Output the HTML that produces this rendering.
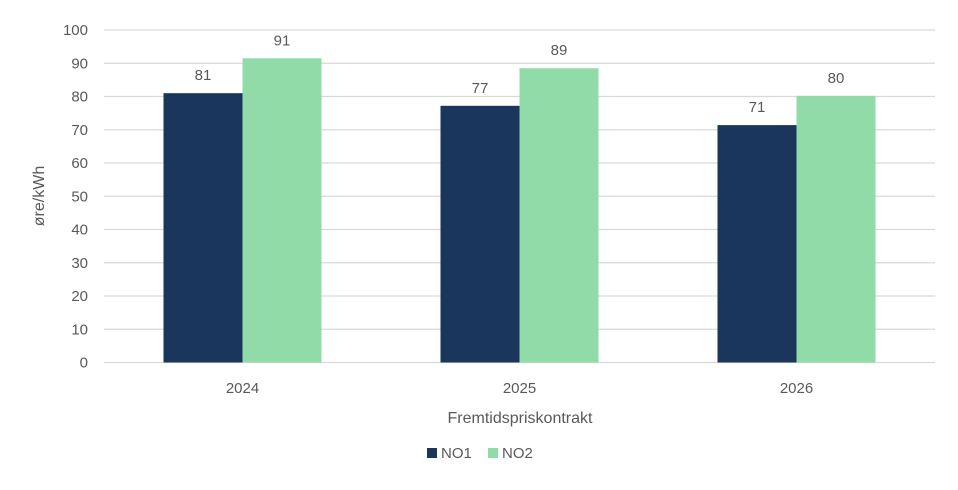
<!DOCTYPE html>
<html><head><meta charset="utf-8"><style>
body{margin:0;background:#fff;}
svg text{font-family:"Liberation Sans",sans-serif;fill:#595959;}
</style></head><body>
<svg width="958" height="485">
<g id="grid"></g>
<g id="yt"></g>
<g id="bars"></g>
<g id="xt"></g>
<text transform="translate(44,196) rotate(-90)" text-anchor="middle" font-size="16">øre/kWh</text>
<text x="520" y="423" text-anchor="middle" font-size="16">Fremtidspriskontrakt</text>
<g>
<rect x="427" y="448" width="10" height="10" fill="#1b365d"/>
<text x="441" y="458" font-size="15">NO1</text>
<rect x="488" y="448" width="10" height="10" fill="#91dba9"/>
<text x="502" y="458" font-size="15">NO2</text>
</g>
</svg>
<script>
const categories=["2024","2025","2026"];
const no1=[81.0,77.2,71.4];
const no2=[91.5,88.5,80.2];
const no1Labels=["81","77","71"];
const no2Labels=["91","89","80"];
const yTicks=[0,10,20,30,40,50,60,70,80,90,100];
const NS="http://www.w3.org/2000/svg";
const x0=104,x1=935,y0=362.5,yTop=30;
const y=v=>y0-(y0-yTop)*v/100;
const cw=(x1-x0)/categories.length;
const bw=79;
function mk(t,a,p){const e=document.createElementNS(NS,t);for(const k in a)e.setAttribute(k,a[k]);p.appendChild(e);return e;}
const grid=document.getElementById('grid'),yt=document.getElementById('yt'),bars=document.getElementById('bars'),xt=document.getElementById('xt');
yTicks.forEach(v=>{
 const l=mk('line',{x1:x0,x2:x1,y1:y(v),y2:y(v),stroke:'#d9d9d9','stroke-width':1.3},grid);
 
 
 const t=mk('text',{x:88,y:y(v)+5,'text-anchor':'end','font-size':15},yt);t.textContent=v;
 
 
});
categories.forEach((c,i)=>{
 const cx=x0+cw*(i+0.5);
 const r1=mk('rect',{x:cx-bw,y:y(no1[i]),width:bw,height:y0-y(no1[i]),fill:'#1b365d'},bars);
 
 
 const r2=mk('rect',{x:cx,y:y(no2[i]),width:bw,height:y0-y(no2[i]),fill:'#91dba9'},bars);
 
 
 const l1=mk('text',{x:cx-bw/2,y:y(no1[i])-13,'text-anchor':'middle','font-size':15},bars);l1.textContent=no1Labels[i];
 
 
 const l2=mk('text',{x:cx+bw/2,y:y(no2[i])-13,'text-anchor':'middle','font-size':15},bars);l2.textContent=no2Labels[i];
 
 
 const t=mk('text',{x:cx,y:393,'text-anchor':'middle','font-size':15},xt);t.textContent=c;
 
 
});
</script>
</body></html>
